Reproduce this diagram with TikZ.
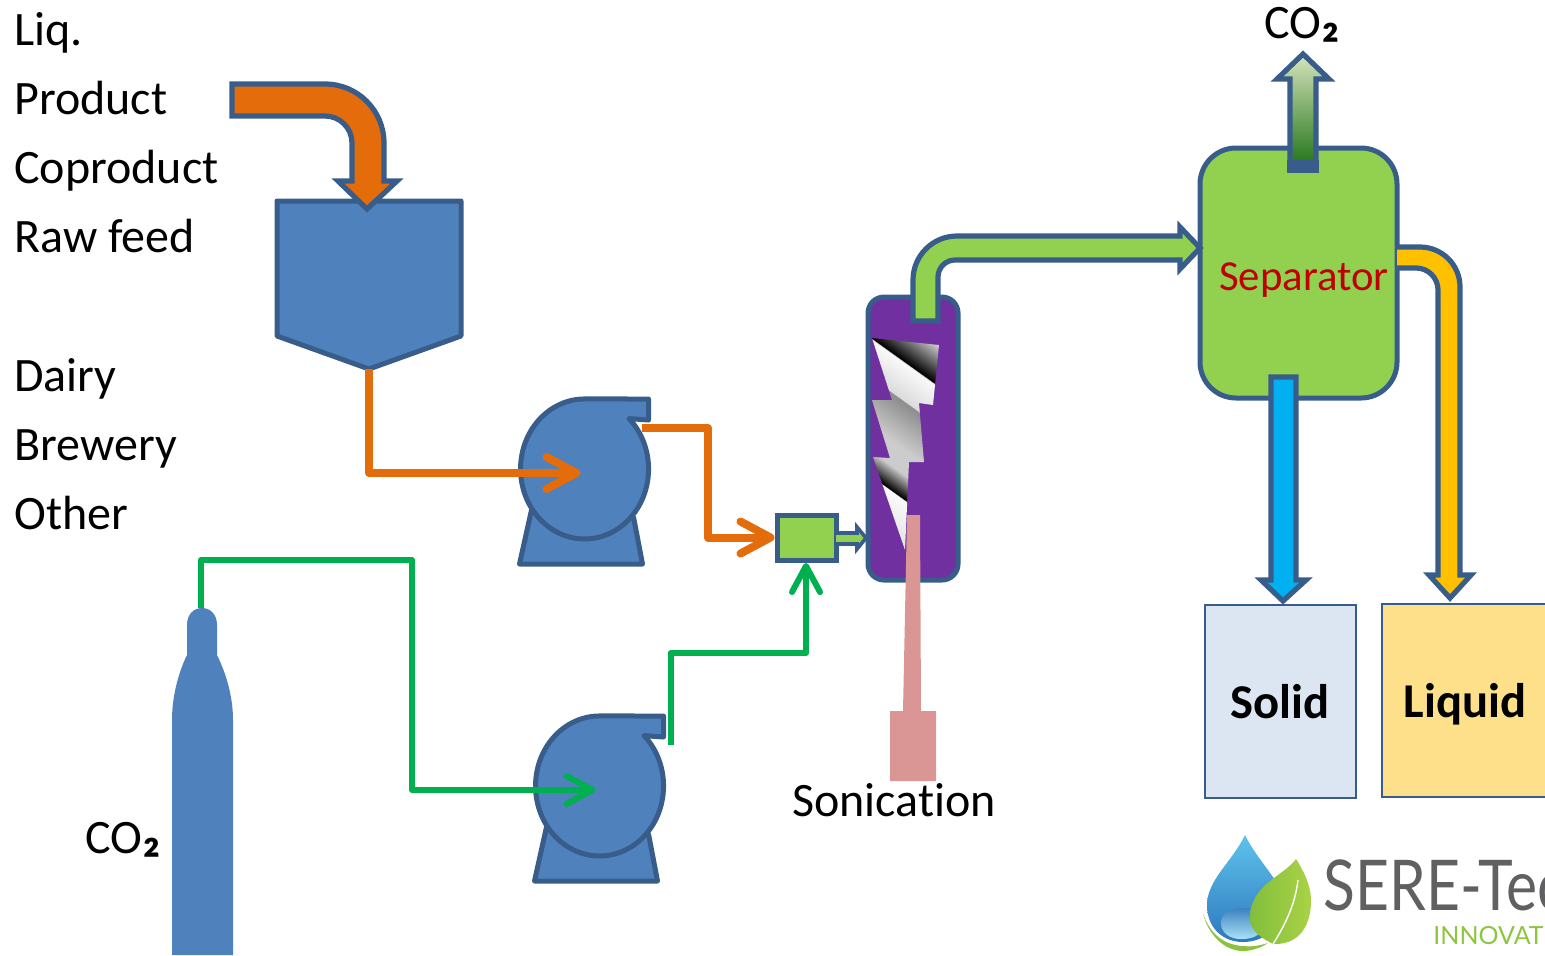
\documentclass[tikz,border=0pt]{standalone}
\usepackage{fontspec}
\setmainfont{Carlito}[Ligatures=NoCommon]
\newfontfamily\logofont{Lato}
\usetikzlibrary{arrows.meta, positioning, calc}
\definecolor{edgeblue}{HTML}{385D8A}
\definecolor{unitblue}{HTML}{4F81BD}
\definecolor{pipegreen}{HTML}{92D050}
\definecolor{lineorange}{HTML}{E46C0A}
\definecolor{linegreen}{HTML}{00B050}
\definecolor{reactorpurple}{HTML}{7030A0}
\definecolor{sonicpink}{HTML}{D99694}
\definecolor{solidblue}{HTML}{DCE6F2}
\definecolor{liquidyellow}{HTML}{FEE08B}
\definecolor{sepred}{HTML}{C00000}
\definecolor{gastop}{HTML}{D7E4BD}
\definecolor{gasbottom}{HTML}{28781E}
\definecolor{outamber}{HTML}{FFC000}
\definecolor{outcyan}{HTML}{00B0F0}
\definecolor{droptop}{HTML}{5FC3EB}
\definecolor{dropbottom}{HTML}{2D78BE}
\definecolor{pooltop}{HTML}{3C82BE}
\definecolor{poolbottom}{HTML}{AAE1F5}
\definecolor{leafleft}{HTML}{82BE3C}
\definecolor{leafright}{HTML}{AAD246}
\definecolor{swoosh}{HTML}{8CC33C}
\definecolor{logogray}{HTML}{606062}
\definecolor{logogreen}{HTML}{8DC63F}
\pgfdeclarehorizontalshading{boltgrad}{100bp}{
  color(0bp)=(gray!40); color(38bp)=(gray!40); color(42.06bp)=(black);
  color(42.19bp)=(gray!4); color(46.06bp)=(gray!28); color(46.19bp)=(gray!90);
  color(51.06bp)=(gray!40); color(53.56bp)=(gray!40); color(56.06bp)=(black);
  color(56.19bp)=(gray!4); color(61.06bp)=(gray!22); color(100bp)=(gray!22)}
\newcommand{\cotwo}{CO\raisebox{1.2pt}{\fontsize{27}{27}\selectfont\bfseries ₂}}
\tikzset{
  lbl/.style={anchor=base west,inner sep=0pt,font=\fontsize{24}{28}\selectfont},
  tag/.style={inner sep=0pt,font=\fontsize{24}{28}\selectfont},
  boxtag/.style={tag,font=\fontsize{24.3}{28}\selectfont\bfseries},
  unit/.style={draw=edgeblue,line width=2.5pt,fill=unitblue,line join=round},
  pipe/.style={draw=edgeblue,line width=2.6pt,line join=miter},
  flowo/.style={draw=lineorange,line width=4pt,line join=round,-{Straight Barb[round,length=15pt,width=16pt]}},
  flowg/.style={draw=linegreen,line width=3pt,line join=round,-{Straight Barb[round,length=13pt,width=14pt]}},
  store/.style={draw=edgeblue,line width=1pt},
  pumppic/.pic={
    \draw[unit] (-53,41) -- (-65,95) -- (58,95) -- (49,48) -- cycle;
    \draw[unit] (44.5,-50.4) arc[start angle=-46,end angle=270,x radius=64,y radius=70]
      -- (64,-70) -- (64,-49) -- cycle;
    \coordinate (-in) at (-4,4);
    \coordinate (-out) at (57,-41);
    \coordinate (-up) at (71,-41);
  },
}
\begin{document}
\begin{tikzpicture}[x=0.5pt,y=0.5pt,yscale=-1]
	\clip (0,0) rectangle (1545,955);
	\node[lbl] (liq) at (14,45) {Liq.};
	\node[lbl] (product) at (14,114) {Product};
	\node[lbl] (coproduct) at (14,183) {Coproduct};
	\node[lbl] (rawfeed) at (14,252) {Raw feed};
	\node[lbl] (dairy) at (14,391) {Dairy};
	\node[lbl] (brewery) at (14,460) {Brewery};
	\node[lbl] (other) at (14,529) {Other};

	% feed tank
	\draw[unit] (277,201) -- (461,201) -- (461,336) -- (369,369) -- (277,336) -- cycle;
	\coordinate (tankout) at (369,369);
	\draw[pipe,fill=lineorange] (232,84) -- (325,84) arc[start angle=270,end angle=360,radius=59]
	  -- (384,181) -- (397,181) -- (367,209) -- (338,181) -- (352,181) -- (352,143)
	  arc[start angle=360,end angle=270,radius=27] -- (232,116) -- cycle;

	% pumps
	\pic[transform shape] (pumpa) at (584.5,469) {pumppic};
	\pic[transform shape] (pumpb) at (599.5,786) {pumppic};

	% CO2 cylinder
	\fill[unitblue] (172,955) -- (172,720) .. controls (172,690) and (182,665) .. (187,655)
	  -- (187,625) .. controls (187,614) and (194,608) .. (202,608)
	  .. controls (210,608) and (217,614) .. (217,625) -- (217,655)
	  .. controls (222,665) and (233,690) .. (233,720) -- (233,955) -- cycle;
	\coordinate (cyltop) at (201,608);
	\node[tag] (cotwoa) at (123,840) {\cotwo};

	% mixer
	\node[draw=edgeblue,line width=2.5pt,fill=pipegreen,minimum width=29.5pt,minimum height=22.5pt,inner sep=0pt] (mixer) at (806.5,537.5) {};
	\coordinate (mixerin) at (806,563);

	\draw[flowo] (tankout) |- (pumpa-in);
	\draw[flowo] (pumpa-out) -- (708,428) |- (mixer.west);
	\draw[flowg] (cyltop) |- (412,560) |- (pumpb-in);
	\draw[flowg] (pumpb-up) |- (mixerin |- 0,653) -- (mixerin);

	% reactor
	\draw[draw=edgeblue,line width=2.5pt,fill=reactorpurple,rounded corners=8pt] (868,297) rectangle (958,580);
	\coordinate (reactorin) at (866,538);
	\begin{scope}
		\clip (872,338) -- (939,345) -- (933,405) -- (919,403) -- (924,462) -- (909,462) -- (905,550)
		  -- (873,457) -- (890,458) -- (872,400) -- (892,400) -- cycle;
		\shade[shading=boltgrad,shading angle=234.4] (705,240) rectangle (1105,640);
	\end{scope}
	\draw[draw=edgeblue,line width=1.8pt,fill=pipegreen,line join=miter] (836,533) -- (857,533) -- (857,527) -- (866,538)
	  -- (857,549) -- (857,544) -- (836,544);
	\fill[sonicpink] (907,515) -- (920,515) -- (921,711) -- (936,711) -- (936,781) -- (890,781)
	  -- (890,711) -- (903,711) -- cycle;
	\node[tag] (sonication) at (894,800) {Sonication};

	% separator
	\node[draw=edgeblue,line width=2.5pt,fill=pipegreen,rounded corners=18pt,minimum width=98.5pt,minimum height=125pt,inner sep=0pt] (separator) at (1298.5,273) {};
	\node[tag,text=sepred,font=\fontsize{21.4}{26}\selectfont] (septag) at (1304,280) {Separator};
	\draw[pipe,fill=pipegreen] (913,321) -- (913,280) arc[start angle=180,end angle=270,radius=44]
	  -- (1180,236) -- (1180,227) -- (1200,248) -- (1180,269) -- (1180,260) -- (955,260)
	  arc[start angle=270,end angle=180,radius=17] -- (938,321) -- cycle;

	% outlets
	\shade[top color=gastop,bottom color=gasbottom] (1303,54) -- (1329,79)
	  -- (1316,79) -- (1316,162) -- (1290,162) -- (1290,79) -- (1277,79) -- cycle;
	\draw[pipe,line join=miter] (1290,162) -- (1290,79) -- (1277,79) -- (1303,54) -- (1329,79) -- (1316,79) -- (1316,162);
	\fill[edgeblue] (1287,160) rectangle (1319,173);
	\node[tag] (cotwob) at (1302,25) {\cotwo};
	\draw[pipe,fill=outamber] (1397,247) -- (1420,247) arc[start angle=270,end angle=360,radius=40]
	  -- (1460,575) -- (1471,575) -- (1450,598) -- (1429,575) -- (1438,575) -- (1438,290)
	  arc[start angle=360,end angle=270,radius=22] -- (1397,268);
	\draw[pipe,fill=outcyan] (1271,377) -- (1296,377) -- (1296,580) -- (1306,580) -- (1283,601)
	  -- (1261,580) -- (1271,580) -- cycle;

	% product stores
	\node[store,fill=solidblue,minimum width=75.5pt,minimum height=96.5pt,inner sep=0pt] (solid) at (1280.5,701.5) {};
	\node[store,fill=liquidyellow,minimum width=83pt,minimum height=96.5pt,inner sep=0pt] (liquid) at (1465,700.5) {};
	\node[boxtag] (solidtag) at (1280,702) {Solid};
	\node[boxtag] (liquidtag) at (1465,704) {Liquid};

	% logo
	\shade[top color=droptop,bottom color=dropbottom] (1245,835)
	  .. controls (1232,862) and (1207,880) .. (1207,905) .. controls (1207,928) and (1223,942) .. (1243,942)
	  .. controls (1265,942) and (1285,925) .. (1285,905) .. controls (1285,885) and (1258,862) .. cycle;
	\shade[top color=pooltop,bottom color=poolbottom] (1221,923)
	  .. controls (1221,912) and (1232,908) .. (1245,908) .. controls (1258,908) and (1262,915) .. (1262,925)
	  .. controls (1262,936) and (1252,939) .. (1241,939) .. controls (1230,939) and (1221,933) .. cycle;
	\shade[left color=leafleft,right color=leafright] (1296,859)
	  .. controls (1285,875) and (1250,885) .. (1250,917) .. controls (1250,932) and (1262,938) .. (1273,944)
	  .. controls (1300,945) and (1311,925) .. (1311,900) .. controls (1311,885) and (1303,870) .. cycle;
	\draw[white,line width=0.7pt] (1273,944) .. controls (1285,925) and (1295,905) .. (1298,880);
	\fill[swoosh] (1203,913) .. controls (1208,935) and (1225,952) .. (1245,951)
	  .. controls (1255,950) and (1262,947) .. (1268,943) .. controls (1258,946) and (1250,947) .. (1243,946)
	  .. controls (1225,945) and (1210,935) .. cycle;
	\node[anchor=base west,inner sep=0pt,text=logogray,font=\logofont\fontsize{35}{40}\selectfont] (seretec) at (1323,910) {\scalebox{0.84}[1]{SERE-Tec}};
	\node[anchor=base west,inner sep=0pt,text=logogreen,font=\logofont\fontsize{12.5}{15}\selectfont] (innovat) at (1433,944) {INNOVAT};
\end{tikzpicture}
\end{document}
